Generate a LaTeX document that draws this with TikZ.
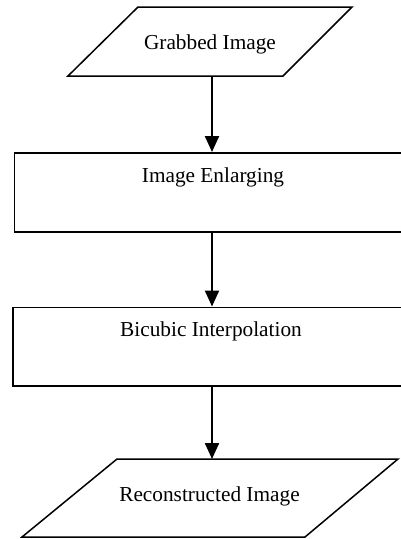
\documentclass[tikz,border=0pt]{standalone}
\usepackage{fontspec}
\setmainfont{Liberation Serif}
\usetikzlibrary{arrows.meta}
\begin{document}
\begin{tikzpicture}[x=1pt,y=-1pt,
  shapeline/.style={draw=black, line width=1.5pt, line join=miter},
  boxnode/.style={shapeline, rectangle, inner sep=0pt, anchor=north west},
  lbl/.style={anchor=base, inner sep=0pt, font=\fontsize{21.3}{25}\selectfont},
  flow/.style={draw=black, line width=2.2pt, -{Triangle[width=14pt,length=16pt]}}]
\useasboundingbox (0,0) rectangle (401,539);
\clip (0,0) rectangle (401,539);
% top parallelogram
\draw[shapeline] (138,7) -- (352,7) -- (283,76) -- (68,76) -- cycle;
\coordinate (grabOut) at (212,76);
\node[lbl] (grab) at (210,49) {Grabbed Image};
% rectangle 1
\node[boxnode, minimum width=407pt, minimum height=79pt] (enl) at (13.5,152) {};
\node[lbl] (enlt) at (213,182.5) {Image Enlarging};
% rectangle 2
\node[boxnode, minimum width=408pt, minimum height=78.5pt] (bic) at (12,306.5) {};
\node[lbl] (bict) at (211,336) {Bicubic Interpolation};
% bottom parallelogram
\draw[shapeline] (117,459) -- (398,459) -- (305,537) -- (22,537) -- cycle;
\coordinate (recIn) at (212,459);
\node[lbl] (rec) at (209.5,501.5) {Reconstructed Image};
% connectors
\draw[flow] (grabOut) -- (enl.north west -| grabOut);
\draw[flow] (enl.south west -| grabOut) -- (bic.north west -| grabOut);
\draw[flow] (bic.south west -| grabOut) -- (recIn);
\end{tikzpicture}
\end{document}
